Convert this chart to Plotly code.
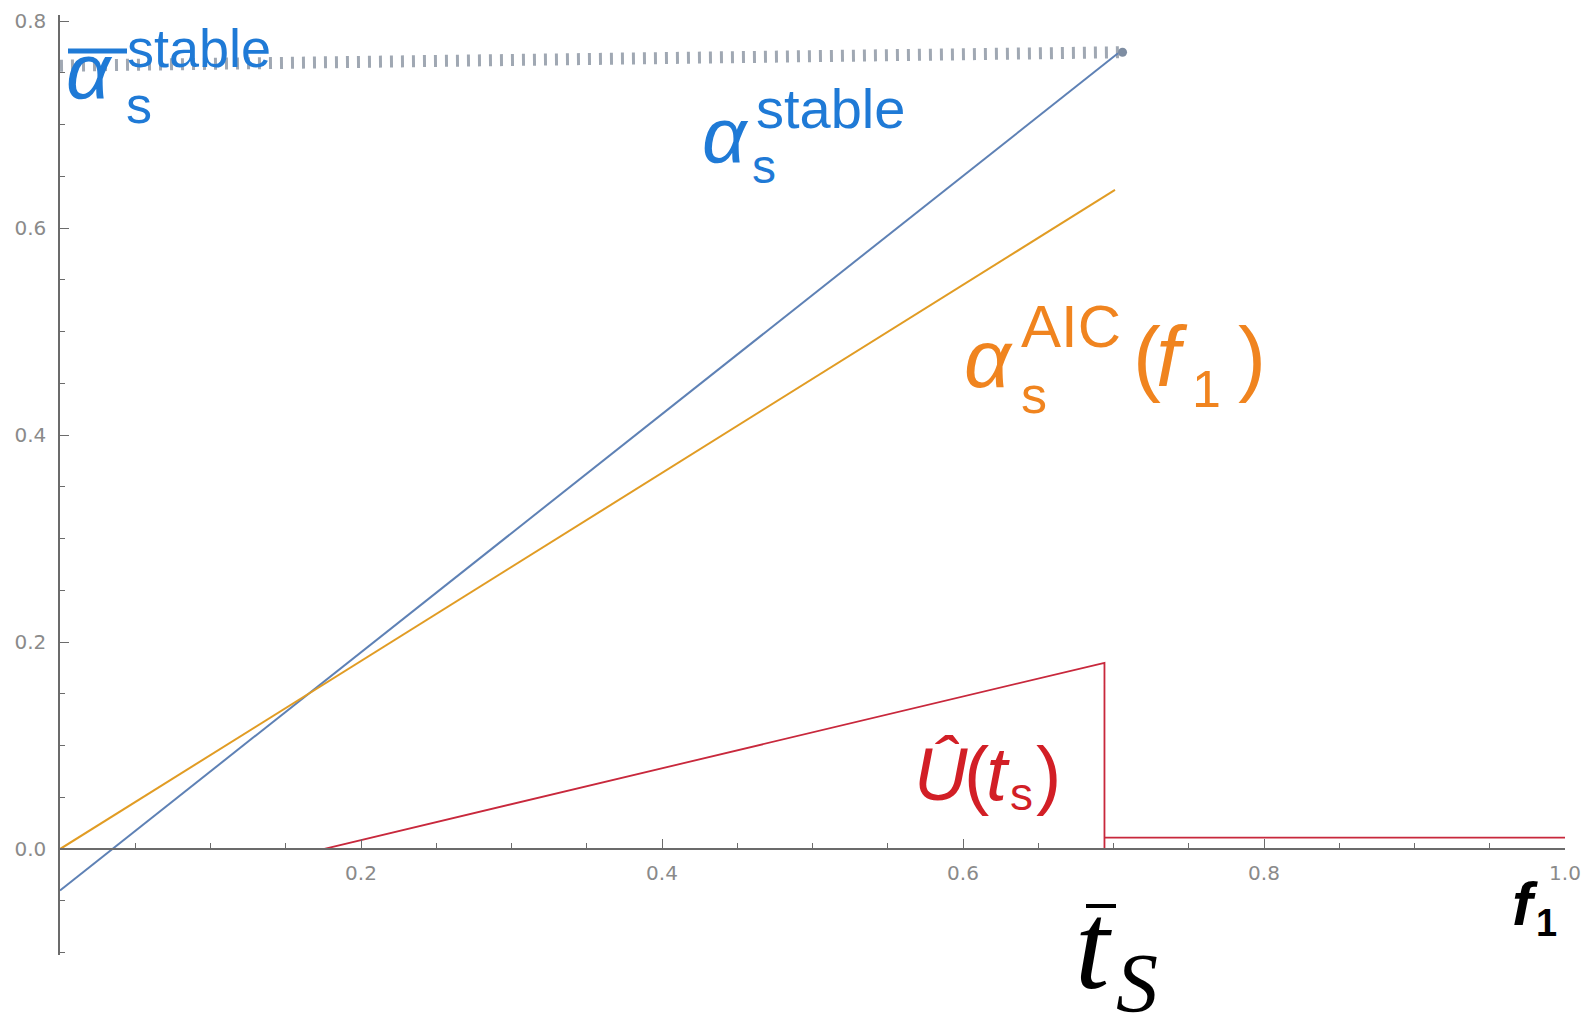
import plotly.graph_objects as go

# curves (f1 on x, alpha on y)
f1_stable = [0.0, 0.703]
alpha_stable = [-0.040, 0.769]

f1_aic = [0.0, 0.701]
alpha_aic = [0.0, 0.637]

f1_bar = [0.0, 0.706]
alpha_bar = [0.757, 0.770]

f1_u = [0.175, 0.694, 0.694, None, 0.694, 1.0]
u_hat = [0.0, 0.180, 0.0, None, 0.011, 0.011]

x_ticks = [0.2, 0.4, 0.6, 0.8, 1.0]
x_ticktext = ["0.2", "0.4", "0.6", "0.8", "1.0"]

y_min, y_max = -0.1024, 0.806

SANS = "Liberation Sans, Arial, sans-serif"
SERIF = "Liberation Serif, Times New Roman, serif"
BLUE_TXT = "#1f7ad6"
ORANGE_TXT = "#f0841f"
RED_TXT = "#d21f26"
AXIS = "#6b6b6b"

# plot area in pixels
L, T, W, H = 60, 15, 1505, 940

fig = go.Figure()

fig.add_trace(go.Scatter(x=f1_bar, y=alpha_bar, mode="lines",
                         line=dict(color="#a0a8b3", width=12, dash="3px,8px")))
fig.add_trace(go.Scatter(x=f1_bar[-1:], y=alpha_bar[-1:], mode="markers",
                         marker=dict(color="#7e8da2", size=9)))
fig.add_trace(go.Scatter(x=f1_stable, y=alpha_stable, mode="lines",
                         line=dict(color="#5e81b5", width=2)))
fig.add_trace(go.Scatter(x=f1_aic, y=alpha_aic, mode="lines",
                         line=dict(color="#e19c24", width=2)))
fig.add_trace(go.Scatter(x=f1_u, y=u_hat, mode="lines", connectgaps=False,
                         line=dict(color="#c8283c", width=1.8)))


def label(text, x_left, baseline, size, color, family=SANS, italic=False, bold=False):
    # place a piece of text by its left edge and baseline (pixels)
    fig.add_annotation(
        x=(x_left - L) / W, y=(T + H - (baseline - 0.345 * size)) / H,
        xref="paper", yref="paper", xanchor="left", yanchor="middle",
        text=text, showarrow=False,
        font=dict(size=size, color=color, family=family,
                  style="italic" if italic else "normal",
                  weight="bold" if bold else "normal"))


def bar(x0, x1, y, width, color):
    fig.add_shape(type="line", xref="paper", yref="paper",
                  x0=(x0 - L) / W, x1=(x1 - L) / W,
                  y0=(T + H - y) / H, y1=(T + H - y) / H,
                  line=dict(color=color, width=width))


# overline alpha_s^stable (top left)
label("α", 64, 98, 78, BLUE_TXT, italic=True)
bar(68, 127, 51, 5, BLUE_TXT)
label("stable", 125, 67, 54, BLUE_TXT)
label("s", 124, 123, 52, BLUE_TXT)

# alpha_s^stable
label("α", 700, 162, 78, BLUE_TXT, italic=True)
label("stable", 754, 128, 56, BLUE_TXT)
label("s", 750, 183, 48, BLUE_TXT)

# alpha_s^AIC(f_1)
label("α", 962, 387, 82, ORANGE_TXT, italic=True)
label("AIC", 1019, 347, 60, ORANGE_TXT)
label("s", 1019, 413, 52, ORANGE_TXT)
label("(", 1131, 386, 84, ORANGE_TXT)
label("f", 1154, 386, 86, ORANGE_TXT, italic=True)
label("1", 1190, 407, 52, ORANGE_TXT)
label(")", 1236, 386, 84, ORANGE_TXT)

# U-hat(t_s)
label("Û", 912, 800, 74, RED_TXT, italic=True)
label("(", 962, 800, 76, RED_TXT)
label("t", 984, 800, 76, RED_TXT, italic=True)
label("s", 1008, 810, 46, RED_TXT)
label(")", 1034, 800, 76, RED_TXT)

# axis label f_1
label("f", 1510, 925, 62, "black", italic=True, bold=True)
label("1", 1534, 936, 38, "black", bold=True)

# t-bar_S
label("t", 1073, 989, 124, "black", family=SERIF, italic=True)
bar(1086, 1116, 906, 4, "black")
label("S", 1114, 1012, 84, "black", family=SERIF, italic=True)

tick_font = dict(family="DejaVu Sans, sans-serif", size=20, color="#8a8a8a")

fig.update_layout(
    width=1593, height=1019,
    margin=dict(l=L, r=1593 - L - W, t=T, b=1019 - T - H),
    paper_bgcolor="white", plot_bgcolor="white",
    showlegend=False,
    xaxis=dict(
        range=[0, 1], anchor="free", position=(0 - y_min) / (y_max - y_min),
        tickmode="array", tickvals=x_ticks, ticktext=x_ticktext,
        ticks="inside", ticklen=9, tickwidth=1.2, tickcolor=AXIS,
        minor=dict(tickmode="linear", tick0=0, dtick=0.05, ticks="inside",
                   ticklen=5, tickcolor=AXIS, tickwidth=1),
        showline=True, linecolor=AXIS, linewidth=1.5,
        showgrid=False, zeroline=False, tickfont=tick_font,
        ticklabelstandoff=6, automargin=False,
    ),
    yaxis=dict(
        range=[y_min, y_max],
        tickmode="linear", tick0=0, dtick=0.2, tickformat=".1f",
        ticks="inside", ticklen=9, tickwidth=1.2, tickcolor=AXIS,
        minor=dict(tickmode="linear", tick0=0, dtick=0.05, ticks="inside",
                   ticklen=5, tickcolor=AXIS, tickwidth=1),
        showline=True, linecolor=AXIS, linewidth=1.5,
        showgrid=False, zeroline=False, tickfont=tick_font,
        ticklabelstandoff=8, automargin=False,
    ),
)

# the page body has a default 8px margin; drop it so the figure fills the window
fig.write_html("out.html", config={"displayModeBar": False},
               post_script="document.body.style.margin='0';")
